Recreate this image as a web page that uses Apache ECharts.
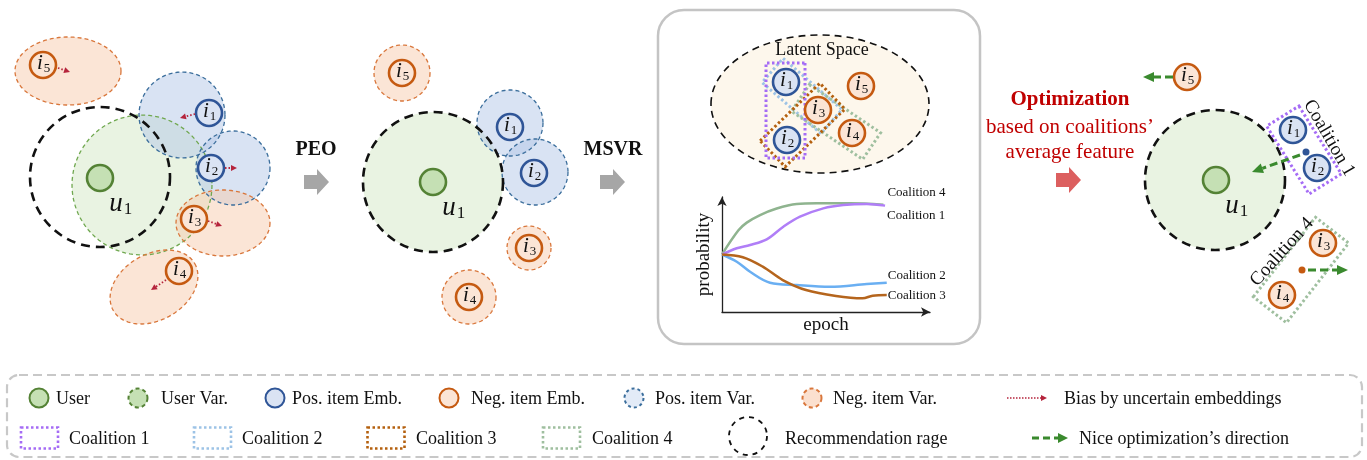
<!DOCTYPE html>
<html>
<head>
<meta charset="utf-8">
<script src="https://cdn.jsdelivr.net/npm/echarts@6/dist/echarts.min.js"></script>
<style>
  html, body { margin: 0; padding: 0; background: #fff; }
  #mainChart { width: 1367px; height: 460px; }
</style>
</head>
<body>
<div id="mainChart"></div>
<script>
// ---- diagram data (x, y on a 1367 x 460 canvas axis) ----
const userNodes = [[100, 178], [433, 182], [1216, 180]];
// [x, y, subscript, kind]  kind: p = positive item, n = negative item
const itemNodes = [
  [43, 65, '5', 'n'], [209, 113, '1', 'p'], [211, 168, '2', 'p'], [194, 219, '3', 'n'], [179, 271, '4', 'n'],
  [402, 73, '5', 'n'], [510, 127, '1', 'p'], [534, 173, '2', 'p'], [529, 248, '3', 'n'], [469, 297, '4', 'n'],
  [786, 82, '1', 'p'], [787, 140, '2', 'p'], [818, 110, '3', 'n'], [852, 133, '4', 'n'], [861, 86, '5', 'n'],
  [1187, 77, '5', 'n'], [1293, 130, '1', 'p'], [1317, 168, '2', 'p'], [1323, 243, '3', 'n'], [1282, 295, '4', 'n']
];
// variance regions [x, y, rx, ry, tilt, kind]  (u0 = user variance without own border)
const varRegions = [
  [142, 185, 70, 70, 0, 'u'],
  [182, 115, 43, 43, 0, 'p'], [233, 168, 37, 37, 0, 'p'],
  [68, 71, 53, 34, 0, 'n'], [223, 223, 47, 33, 0, 'n'], [154, 287, 47, 33, -30, 'n'],
  [433, 182, 70, 70, 0, 'u0'],
  [510, 123, 33, 33, 0, 'p'], [535, 172, 33, 33, 0, 'p'],
  [402, 73, 28, 28, 0, 'n'], [529, 248, 22, 22, 0, 'n'], [469, 297, 27, 27, 0, 'n'],
  [1215, 180, 70, 70, 0, 'u0']
];
// recommendation range [x, y, r]
const recRanges = [[100, 177, 70], [433, 182, 70], [1215, 180, 70]];
// coalition boxes [cx, cy, length, width, angle, coalition]
const coalitionBoxes = [
  [802, 96, 78, 32, 41, 2],
  [836, 122, 86, 32, 34, 4],
  [802.5, 125, 83, 36, -44, 3],
  [785.5, 110.5, 95, 39, 90, 1],
  [1304, 150, 80, 38, 58, 1],
  [1301, 270, 101, 42, -52, 4]
];
const coalitionLabels = [[1329, 138, 'Coalition 1', -60], [1282, 252, 'Coalition 4', 48]];
const avgDots = [[1306, 152, 'p'], [1302, 270, 'n']];
// arrows [x1, y1, x2, y2]
const biasArrows = [[58, 68, 70, 72], [195, 114, 180, 118], [225, 168, 237, 168], [208, 221, 222, 226], [166, 280, 151, 290]];
const optArrows = [[1173, 77, 1143, 77], [1300, 155, 1252, 172], [1308, 270, 1348, 270]];
const stepArrows = [[317, 182, 'gray'], [613, 182, 'gray'], [1069, 180, 'red']];
// boxes [x1, y1, x2, y2]
const insetBox = [[658, 10, 980, 344]];
const latentSpace = [[820, 104, 109, 69]];
const legendBox = [[7, 375, 1362, 457]];

const stepTexts = [[316, 150, 'PEO'], [613, 150, 'MSVR']];
const optTexts = [[1070, 100, 'Optimization'], [1070, 127, 'based on coalitions\u2019'], [1070, 152, 'average feature']];
const latentTitle = [[822, 50, 'Latent Space']];

// legend marks [x, y, kind] and texts [x, y, text]
const legendMarks = [
  [39, 398, 'u'], [138, 398, 'uv'], [275, 398, 'p'], [449, 398, 'n'], [634, 398, 'pv'], [812, 398, 'nv'], [1027, 398, 'bias'],
  [39.5, 438, 'c1'], [212.5, 438, 'c2'], [386, 438, 'c3'], [561.5, 438, 'c4'], [748, 436, 'rec'], [1050, 438, 'opt']
];
const legendTexts = [
  [56, 399, 'User'], [161, 399, 'User Var.'], [292, 399, 'Pos. item Emb.'], [471, 399, 'Neg. item Emb.'],
  [655, 399, 'Pos. item Var.'], [833, 399, 'Neg. item Var.'], [1064, 399, 'Bias by uncertain embeddings'],
  [69, 439, 'Coalition 1'], [242, 439, 'Coalition 2'], [416, 439, 'Coalition 3'], [592, 439, 'Coalition 4'],
  [785, 439, 'Recommendation rage'], [1079, 439, 'Nice optimization\u2019s direction']
];

// ---- probability curves (epoch 0-100, probability 0-1) ----
const epochC4 = [0, 7.9, 11.9, 18.3, 26.3, 35.9, 45.5, 61.5, 77.6];
const probC4 = [0.50, 0.71, 0.777, 0.843, 0.90, 0.939, 0.945, 0.945, 0.933];
const epochC1 = [0, 7.1, 13.5, 21.5, 29.5, 37.5, 48.7, 58.3, 69.6, 78.4];
const probC1 = [0.50, 0.554, 0.583, 0.632, 0.742, 0.829, 0.901, 0.93, 0.939, 0.925];
const epochC2 = [0, 7.1, 13.5, 23.1, 35.9, 51.9, 69.6, 79.2];
const probC2 = [0.50, 0.437, 0.35, 0.255, 0.235, 0.22, 0.243, 0.255];
const epochC3 = [0, 10, 19.6, 29.2, 40.4, 54.8, 67.6, 72.4, 79.2];
const probC3 = [0.50, 0.476, 0.394, 0.278, 0.191, 0.139, 0.119, 0.142, 0.148];

const FONT = '"Liberation Serif", "Times New Roman", serif';
const COL = {
  userLine: '#548235', userFill: '#c5e0b4',
  posLine: '#2f5597', posFill: '#dae3f3',
  negLine: '#c55a11', negFill: '#fbe5d6',
  c1: '#a56cf5', c2: '#9dc3e6', c3: '#b4600e', c4: '#9fbf9f',
  bias: '#b5243c', opt: '#3a8a2e'
};
const VAR_FILL = { u: 'rgba(197,224,180,0.38)', u0: 'rgba(197,224,180,0.38)', p: 'rgba(180,199,231,0.5)', n: 'rgba(248,203,173,0.5)' };
const VAR_LINE = { u: '#70a850', p: '#3b6e9c', n: '#d9773c' };

function ellipsePts(cx, cy, rx, ry, deg) {
  const a = deg * Math.PI / 180, pts = [];
  for (let k = 0; k < 90; k++) {
    const t = k / 90 * Math.PI * 2;
    const x = rx * Math.cos(t), y = ry * Math.sin(t);
    pts.push([cx + x * Math.cos(a) - y * Math.sin(a), cy + x * Math.sin(a) + y * Math.cos(a)]);
  }
  return pts;
}
function boxPts(cx, cy, len, wid, deg) {
  const a = deg * Math.PI / 180;
  const ux = Math.cos(a) * len / 2, uy = Math.sin(a) * len / 2;
  const vx = -Math.sin(a) * wid / 2, vy = Math.cos(a) * wid / 2;
  return [[cx - ux - vx, cy - uy - vy], [cx + ux - vx, cy + uy - vy], [cx + ux + vx, cy + uy + vy], [cx - ux + vx, cy - uy + vy]];
}
function arrowEl(x1, y1, x2, y2, color, width, dash, headLen, headW) {
  const ang = Math.atan2(y2 - y1, x2 - x1);
  const bx = x2 - headLen * Math.cos(ang), by = y2 - headLen * Math.sin(ang);
  const nx = -Math.sin(ang) * headW / 2, ny = Math.cos(ang) * headW / 2;
  return {
    type: 'group', children: [
      { type: 'line', shape: { x1: x1, y1: y1, x2: bx, y2: by }, style: { stroke: color, lineWidth: width, lineDash: dash } },
      { type: 'polygon', shape: { points: [[x2, y2], [bx + nx, by + ny], [bx - nx, by - ny]] }, style: { fill: color } }
    ]
  };
}
function txt(x, y, text, opt) {
  return {
    type: 'text', x: x, y: y, rotation: opt.rotation || 0,
    style: {
      text: text, fontFamily: FONT, fontSize: opt.size || 18, fontWeight: opt.weight || 'normal',
      fontStyle: opt.style || 'normal', fill: opt.color || '#111',
      align: opt.align || 'center', verticalAlign: 'middle'
    }
  };
}

// one custom series per layer, positions go through the hidden full-canvas axes
function layer(name, rows, draw, dims) {
  const n = dims || 2;
  return {
    type: 'custom', name: name, coordinateSystem: 'cartesian2d', xAxisIndex: 0, yAxisIndex: 0,
    silent: true, clip: false,
    data: rows.map(r => r.slice(0, n)),
    renderItem: function (params, api) {
      return draw(rows[params.dataIndex], api.coord([api.value(0), api.value(1)]), api);
    }
  };
}
function px(api, v) { return api.size([v, 0])[0]; }

const chart = echarts.init(document.getElementById('mainChart'));

const option = {
  animation: false,
  backgroundColor: '#fff',
  grid: [
    { left: 0, top: 0, width: 1367, height: 460, outerBoundsMode: 'none' },
    { left: 722, top: 197, width: 208, height: 115, outerBoundsMode: 'none' }
  ],
  xAxis: [
    { gridIndex: 0, type: 'value', min: 0, max: 1367, show: false },
    {
      gridIndex: 1, type: 'value', min: 0, max: 100,
      name: 'epoch', nameLocation: 'middle', nameGap: 4,
      nameTextStyle: { fontFamily: FONT, fontSize: 19, color: '#111', verticalAlign: 'top' },
      axisLine: { show: true, symbol: ['none', 'arrow'], symbolSize: [7, 9], lineStyle: { color: '#222', width: 1.3 } },
      axisTick: { show: false }, axisLabel: { show: false }, splitLine: { show: false }
    }
  ],
  yAxis: [
    { gridIndex: 0, type: 'value', min: 0, max: 460, inverse: true, show: false },
    {
      gridIndex: 1, type: 'value', min: 0, max: 1,
      name: 'probability', nameLocation: 'middle', nameRotate: 90, nameGap: 8,
      nameTextStyle: { fontFamily: FONT, fontSize: 19, color: '#111' },
      axisLine: { show: true, symbol: ['none', 'arrow'], symbolSize: [7, 9], lineStyle: { color: '#222', width: 1.3 } },
      axisTick: { show: false }, axisLabel: { show: false }, splitLine: { show: false }
    }
  ],
  series: [
    layer('inset', insetBox, function (r, p, api) {
      const q = api.coord([r[2], r[3]]);
      return { type: 'rect', shape: { x: p[0], y: p[1], width: q[0] - p[0], height: q[1] - p[1], r: 26 },
        style: { fill: 'none', stroke: '#c4c4c4', lineWidth: 2.5 } };
    }, 4),
    layer('latent', latentSpace, function (r, p, api) {
      return { type: 'ellipse', shape: { cx: p[0], cy: p[1], rx: px(api, r[2]), ry: px(api, r[3]) },
        style: { fill: '#fdf7ec', stroke: '#111', lineWidth: 1.6, lineDash: [7, 5] } };
    }),
    layer('legendBox', legendBox, function (r, p, api) {
      const q = api.coord([r[2], r[3]]);
      return { type: 'rect', shape: { x: p[0], y: p[1], width: q[0] - p[0], height: q[1] - p[1], r: 12 },
        style: { fill: 'none', stroke: '#c8c8c8', lineWidth: 2.2, lineDash: [9, 5] } };
    }, 4),
    layer('varFill', varRegions, function (r, p, api) {
      return { type: 'polygon', shape: { points: ellipsePts(p[0], p[1], px(api, r[2]), px(api, r[3]), r[4]) },
        style: { fill: VAR_FILL[r[5]] } };
    }),
    layer('varLine', varRegions, function (r, p, api) {
      if (r[5] === 'u0') return null;
      return { type: 'polygon', shape: { points: ellipsePts(p[0], p[1], px(api, r[2]), px(api, r[3]), r[4]) },
        style: { fill: 'none', stroke: VAR_LINE[r[5]], lineWidth: 1.3, lineDash: [4, 3] } };
    }),
    layer('recRange', recRanges, function (r, p, api) {
      return { type: 'circle', shape: { cx: p[0], cy: p[1], r: px(api, r[2]) },
        style: { fill: 'none', stroke: '#111', lineWidth: 2.6, lineDash: [9, 6] } };
    }),
    layer('coalitions', coalitionBoxes, function (r, p, api) {
      return { type: 'polygon', shape: { points: boxPts(p[0], p[1], px(api, r[2]), px(api, r[3]), r[4]) },
        style: { fill: 'none', stroke: COL['c' + r[5]], lineWidth: 3, lineDash: [2.5, 2.5] } };
    }),
    layer('users', userNodes, function (r, p) {
      return { type: 'group', children: [
        { type: 'circle', shape: { cx: p[0], cy: p[1], r: 13 }, style: { fill: COL.userFill, stroke: COL.userLine, lineWidth: 2.6 } },
        txt(p[0] + 16, p[1] + 26, 'u', { size: 27, style: 'italic' }),
        txt(p[0] + 28, p[1] + 32, '1', { size: 17 })
      ] };
    }),
    layer('items', itemNodes, function (r, p) {
      const pos = r[3] === 'p';
      return { type: 'group', children: [
        { type: 'circle', shape: { cx: p[0], cy: p[1], r: 13 },
          style: { fill: pos ? COL.posFill : COL.negFill, stroke: pos ? COL.posLine : COL.negLine, lineWidth: 2.6 } },
        txt(p[0] - 3, p[1] - 2, 'i', { size: 21, style: 'italic' }),
        txt(p[0] + 4, p[1] + 4, r[2], { size: 13 })
      ] };
    }),
    layer('dots', avgDots, function (r, p) {
      return { type: 'circle', shape: { cx: p[0], cy: p[1], r: 3.5 }, style: { fill: r[2] === 'p' ? COL.posLine : COL.negLine } };
    }),
    layer('bias', biasArrows, function (r, p, api) {
      const q = api.coord([r[2], r[3]]);
      return arrowEl(p[0], p[1], q[0], q[1], COL.bias, 1.8, [1.5, 2], 6, 6);
    }, 4),
    layer('opt', optArrows, function (r, p, api) {
      const q = api.coord([r[2], r[3]]);
      return arrowEl(p[0], p[1], q[0], q[1], COL.opt, 3, [8, 4], 11, 10);
    }, 4),
    layer('steps', stepArrows, function (r, p) {
      const x = p[0], y = p[1];
      return { type: 'polygon', shape: { points: [[x - 13, y - 7], [x, y - 7], [x, y - 13], [x + 12, y], [x, y + 13], [x, y + 7], [x - 13, y + 7]] },
        style: { fill: r[2] === 'red' ? '#dc5f5f' : '#a6a6a6' } };
    }),
    layer('stepTexts', stepTexts, function (r, p) {
      return txt(p[0], p[1], r[2], { size: 20, weight: 'bold' });
    }),
    layer('optTexts', optTexts, function (r, p, api) {
      return txt(p[0], p[1], r[2], { size: 21, weight: api.dataIndex === 0 || r[2] === 'Optimization' ? 'bold' : 'normal', color: '#c00000' });
    }),
    layer('latentTitle', latentTitle, function (r, p) {
      return txt(p[0], p[1], r[2], { size: 18 });
    }),
    layer('coalitionLabels', coalitionLabels, function (r, p) {
      return txt(p[0], p[1], r[2], { size: 19, rotation: r[3] * Math.PI / 180 });
    }),
    layer('legendMarks', legendMarks, function (r, p) {
      const x = p[0], y = p[1], k = r[2];
      const circ = (fill, stroke, dash) => ({ type: 'circle', shape: { cx: x, cy: y, r: 9.5 },
        style: { fill: fill, stroke: stroke, lineWidth: 2, lineDash: dash || null } });
      if (k === 'u') return circ(COL.userFill, COL.userLine);
      if (k === 'uv') return circ(COL.userFill, COL.userLine, [4, 3]);
      if (k === 'p') return circ(COL.posFill, COL.posLine);
      if (k === 'n') return circ(COL.negFill, COL.negLine);
      if (k === 'pv') return circ('#e3ebf7', '#3b6e9c', [3, 3]);
      if (k === 'nv') return circ('#fbe0cf', '#d9773c', [4, 3]);
      if (k === 'rec') return { type: 'circle', shape: { cx: x, cy: y, r: 19 }, style: { fill: 'none', stroke: '#111', lineWidth: 1.8, lineDash: [5, 5] } };
      if (k === 'bias') return arrowEl(x - 20, y, x + 20, y, COL.bias, 1.6, [1.5, 1.5], 6, 6);
      if (k === 'opt') return arrowEl(x - 18, y, x + 18, y, COL.opt, 3, [7, 4], 10, 10);
      return { type: 'rect', shape: { x: x - 18.5, y: y - 10.5, width: 37, height: 21 },
        style: { fill: 'none', stroke: COL[k], lineWidth: 2.6, lineDash: [2.5, 2.5] } };
    }),
    layer('legendTexts', legendTexts, function (r, p) {
      return txt(p[0], p[1], r[2], { size: 18, align: 'left' });
    }),
    {
      name: 'Coalition 4', type: 'line', xAxisIndex: 1, yAxisIndex: 1, smooth: 0.35, showSymbol: false, silent: true,
      data: epochC4.map((e, i) => [e, probC4[i]]),
      lineStyle: { color: '#8fb48f', width: 2.5 },
      endLabel: { show: true, formatter: '{a}', distance: 0, offset: [4, -12], fontFamily: FONT, fontSize: 13, color: '#111' }
    },
    {
      name: 'Coalition 1', type: 'line', xAxisIndex: 1, yAxisIndex: 1, smooth: 0.35, showSymbol: false, silent: true,
      data: epochC1.map((e, i) => [e, probC1[i]]),
      lineStyle: { color: '#b07ef7', width: 2.5 },
      endLabel: { show: true, formatter: '{a}', distance: 0, offset: [2, 10], fontFamily: FONT, fontSize: 13, color: '#111' }
    },
    {
      name: 'Coalition 2', type: 'line', xAxisIndex: 1, yAxisIndex: 1, smooth: 0.35, showSymbol: false, silent: true,
      data: epochC2.map((e, i) => [e, probC2[i]]),
      lineStyle: { color: '#6aaff2', width: 2.5 },
      endLabel: { show: true, formatter: '{a}', distance: 0, offset: [1, -7], fontFamily: FONT, fontSize: 13, color: '#111' }
    },
    {
      name: 'Coalition 3', type: 'line', xAxisIndex: 1, yAxisIndex: 1, smooth: 0.35, showSymbol: false, silent: true,
      data: epochC3.map((e, i) => [e, probC3[i]]),
      lineStyle: { color: '#b5651d', width: 2.5 },
      endLabel: { show: true, formatter: '{a}', distance: 0, offset: [1, 1], fontFamily: FONT, fontSize: 13, color: '#111' }
    }
  ]
};

chart.setOption(option);
window.onresize = () => {
  chart.resize();
};
</script>
</body>
</html>
